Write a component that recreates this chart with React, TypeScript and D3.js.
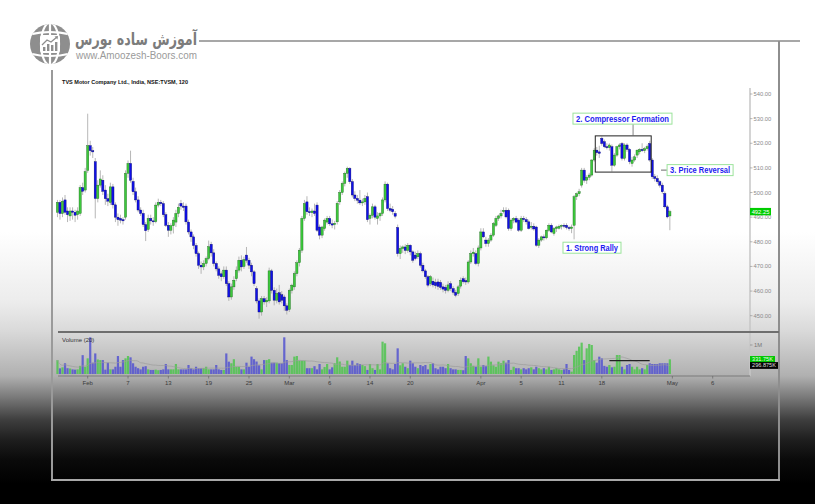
import React, { useEffect, useRef } from 'react';
import * as d3 from 'd3';

const W = 815;
const H = 504;
const FONT = "'Liberation Sans', Arial, sans-serif";

// 120-minute candles: [open, high, low, close]
const ohlc: [number, number, number, number][] = [
  [492, 497, 490, 496], [496, 497, 489, 491.5], [491.5, 498, 490, 496.5], [497, 499, 491, 492], [492.5, 494, 488, 491],
  [490.5, 494, 488.5, 492.5], [492.5, 494, 489, 492], [492, 493, 488, 490.8], [491, 494, 489, 492.5], [491.5, 503, 490.5, 502],
  [502, 504, 499, 500.5], [501, 510, 500, 508.5], [509, 532, 508, 519], [519, 521, 515, 517], [517, 518.5, 514, 516.5],
  [512.5, 514, 489.5, 497.6], [497.6, 505, 496, 503], [503, 509, 502, 505.5], [505, 507, 499, 500.5], [501, 503, 495, 497.5],
  [497.5, 499.5, 494.5, 496.5], [496, 504, 495, 502.3], [502.3, 503.5, 493.5, 495], [495, 496, 488, 490], [490, 491.5, 486.5, 489],
  [489.5, 491, 487.5, 488.8], [489, 490, 487, 488.5], [490, 509, 489, 507.8], [507.8, 513, 506, 511.8], [511.8, 517, 504, 505],
  [504.5, 506, 499, 500.3], [500.3, 502, 496, 497], [497, 498.5, 492, 492.9], [492.9, 494, 490.5, 491.5], [491.5, 493, 486, 487],
  [487, 488, 480.3, 484.5], [485, 491, 484, 489.5], [489.5, 491, 487, 488.5], [488.5, 490, 486.5, 488.2], [488.2, 496, 487.5, 494.9],
  [494.9, 497.5, 494, 496], [496, 497, 494.5, 495.5], [495.5, 496.5, 490, 491], [491, 492, 486, 486.7], [486.7, 488, 482, 484.7],
  [484.7, 487.5, 483, 486.5], [486.5, 490, 483.4, 488.8], [488, 493, 486, 491.5], [491.5, 495.5, 490, 494], [495.6, 497, 493, 494.5],
  [494.5, 496, 492.5, 494], [494.5, 495.5, 487, 488.1], [488, 489, 483, 484], [484, 485, 480, 482], [482, 483, 477, 478.5],
  [478.5, 479.5, 474, 475.2], [475.2, 476, 469, 470.5], [470.5, 472, 467, 469.8], [469.8, 472.5, 468.5, 471.2], [471.2, 474, 470, 473.2],
  [473.2, 480.5, 472.5, 478], [479, 480, 474, 475.5], [475.5, 477, 470, 471.2], [471.2, 472, 468, 469], [469, 470, 465, 466.4],
  [467, 468, 464, 465.8], [465.8, 470, 465, 468.5], [468.5, 470, 462, 463], [463, 464, 456, 457.6], [457.6, 463, 456.5, 461.7],
  [461.7, 466, 460.5, 464.4], [465, 470, 464, 468.5], [468.5, 474, 467.5, 472.5], [472.5, 474.5, 468, 469.8], [470, 474, 469, 472.8],
  [474.6, 477.9, 471.5, 472.5], [472.5, 473.5, 469, 470.5], [470.5, 471.5, 466, 467.8], [467.8, 468.5, 462, 463], [461, 462, 455, 456],
  [456, 457, 448.8, 451.5], [451.5, 458, 450, 456.9], [456.9, 458, 454.5, 455.6], [455.6, 457.5, 453.5, 456.3], [456, 469.5, 455, 468.2],
  [468.2, 469, 459, 460.3], [460.3, 461.5, 454.2, 456.3], [456.3, 461, 455, 459], [459.3, 462.5, 454.5, 455.6], [458.5, 460, 455, 456.3],
  [457.6, 458.5, 452, 454], [454, 455, 450.5, 452.2], [452.5, 461, 451.5, 460.3], [460.3, 463, 459, 462.4], [461.7, 468, 460.5, 467.1],
  [467.1, 472.5, 466, 471.5], [471.5, 477.5, 470, 476.6], [476.6, 490.5, 475.5, 489.5], [489.5, 497, 488.5, 495.5], [496.2, 498.5, 491, 492.2],
  [492.2, 494, 490.5, 491.8], [491.8, 493.5, 490, 492.5], [492.5, 495.5, 490.5, 491.5], [494.9, 496, 484, 484.7], [486, 487, 481, 482.7],
  [482.7, 486.5, 481.5, 486], [485.4, 489.5, 484.5, 488.8], [488, 490.5, 487, 489.5], [489.5, 490.5, 486.5, 487.3], [487.3, 489, 485.5, 486.8],
  [487, 488.5, 485, 487.5], [488.1, 496.5, 487, 495.6], [496.2, 501, 495, 500], [500, 504.5, 499, 503.7], [503.7, 508.5, 502.5, 507.8],
  [507.8, 510.5, 506, 509.8], [509.8, 510.3, 503.5, 504.4], [504.4, 505.5, 498, 499], [499, 500.5, 496.5, 497.6], [497.6, 499, 495.5, 496.9],
  [496.9, 501, 495, 495.8], [495.8, 497.5, 494.5, 496.2], [496.2, 499, 495, 497.6], [498.3, 500, 488, 489], [489.5, 491.5, 487, 490.8],
  [490.8, 495.5, 489.5, 494.2], [494.2, 495, 489, 490], [489.5, 492, 487, 490.5], [490.5, 492, 488.5, 491.5], [491.5, 498, 490.5, 497],
  [497, 504.5, 496, 503.4], [503.4, 504, 492.5, 493.5], [493.5, 495.5, 492, 492.8], [493.2, 494.5, 491, 492.2], [491.5, 492.5, 489.5, 490.4],
  [485.8, 487, 474, 475.2], [475.2, 478.5, 473, 477.3], [477.3, 478.5, 475.5, 477.9], [477.9, 479, 475, 476.5], [476.5, 479.5, 475.5, 478.6],
  [478.6, 479, 474.5, 475.9], [475.9, 476.5, 471.5, 472.5], [474.6, 476, 472.5, 473.2], [473.9, 476.5, 473, 475.2], [475.2, 476, 469.5, 470.5],
  [470.5, 471.5, 467.5, 468.2], [468.2, 469, 465, 465.8], [465.8, 466.5, 461.5, 462.4], [463, 466.5, 462, 465.8], [464, 465.5, 461.5, 462.5],
  [463.5, 465, 461, 462.2], [463.7, 465, 460.5, 461.9], [463.5, 464.5, 460.5, 461.5], [461.7, 463, 459.5, 460.8], [461.5, 462.5, 459, 460.3],
  [460.3, 464, 459.5, 462.5], [463, 464, 460, 461], [461, 462, 458.5, 459.5], [459.5, 460.5, 457.5, 458.3], [459, 462.5, 458, 461.7],
  [462, 465.5, 461, 464.4], [465, 466, 463, 463.8], [464.2, 465.5, 462.5, 463.7], [463.7, 472.5, 463, 471.8], [471.8, 476.5, 471, 475.2],
  [475.2, 477.5, 474, 475.8], [475.2, 476.5, 470.5, 471.2], [471.2, 478.5, 470, 477.5], [477.5, 485.5, 476.5, 484], [484, 485.5, 481.5, 482],
  [480.7, 482, 478, 479.3], [479.3, 481.5, 478, 480.7], [480.7, 483.5, 480, 482.7], [482.7, 488, 482, 487.4], [486.7, 490.5, 486, 489.5],
  [489.5, 491, 488.5, 490.5], [490.5, 493, 489.5, 491.5], [492.2, 494, 491.5, 492.8], [492.8, 494, 489.5, 490.1], [492.8, 493.5, 484.5, 485.4],
  [485.4, 489.5, 484.5, 488.8], [488.8, 490, 487.5, 489.5], [489.5, 490.5, 487.5, 488], [488.8, 489.5, 484, 484.7], [484.7, 490.5, 484, 489.5],
  [489.5, 490.5, 488, 489], [489, 490, 487, 488.1], [488.1, 489, 485, 485.4], [486, 488, 485, 486.3], [486.3, 487.5, 484.5, 485.2],
  [486, 486.5, 478, 478.6], [478.6, 481.5, 477.5, 480.7], [480.7, 482.5, 480, 482], [482, 483, 480.5, 481.6], [481.6, 485, 481, 484.7],
  [484.7, 487.5, 484, 486.7], [486.7, 487.5, 483.5, 484], [483.4, 486, 482.5, 485.4], [485.4, 486.5, 484, 486], [485.5, 487, 485, 486.3],
  [486.3, 487, 485, 486.7], [486.7, 487.5, 485.5, 486.5], [486.7, 487.5, 485, 485.8], [485.8, 486.5, 484.5, 485.4], [485.4, 487, 483.5, 486],
  [486.7, 499, 481, 498.3], [498.3, 500, 497, 499.5], [499.5, 501.5, 498.5, 500.3], [503, 510, 502, 509.1], [509.1, 510, 504, 505],
  [505, 507, 503.5, 506.2], [506.2, 508, 505, 507.1], [507.1, 513.5, 506.5, 513.2], [513.2, 518, 512.5, 517.2], [517.2, 518.5, 515, 516.2],
  [516.5, 519, 514, 515.9], [522, 522.7, 519, 519.9], [520.6, 521.5, 518, 518.6], [518.6, 520, 517.5, 518.2], [518.2, 520, 517, 519.3],
  [518.6, 519.5, 508.5, 511.1], [511.1, 516, 510.5, 515.2], [515.2, 519, 514.5, 518.6], [518.6, 520, 517.5, 519.3], [519.9, 520.5, 513, 513.9],
  [513.9, 520, 513, 519.3], [519.3, 520, 516.5, 517.5], [517.5, 518, 511.5, 512.5], [511.8, 514.5, 510.5, 513.2], [513.2, 515.5, 512.5, 514.5],
  [515.2, 517.5, 514, 517.2], [516.5, 518, 515.5, 517.5], [517.5, 520, 516.5, 517], [517, 518.5, 516, 517.8], [517.8, 519.5, 517, 518.6],
  [519.9, 521, 512.5, 513.2], [513.2, 514, 505.5, 506.4], [506.4, 507.5, 504.5, 505.7], [505.7, 507, 503.5, 504.4], [504.4, 505, 502, 503],
  [503, 504, 499.5, 500.3], [499.6, 500.5, 493.5, 494.2], [494.2, 495, 489.5, 490.1], [490.5, 493, 484.7, 492.25],
];

// volume per candle, thousands
const volumes: number[] = [
  480, 195, 230, 370, 200, 190, 160, 150, 160, 280,
  650, 250, 540, 1265, 390, 710, 500, 480, 480, 150,
  390, 160, 160, 250, 620, 250, 480, 540, 620, 575,
  370, 250, 200, 160, 250, 270, 160, 140, 140, 150,
  130, 140, 160, 345, 160, 160, 160, 345, 160, 160,
  160, 160, 310, 200, 160, 250, 200, 200, 200, 250,
  160, 160, 160, 310, 160, 140, 140, 710, 425, 370,
  510, 250, 250, 160, 160, 390, 250, 600, 510, 430,
  300, 160, 480, 480, 510, 390, 390, 390, 370, 370,
  1265, 480, 310, 310, 600, 620, 460, 460, 460, 200,
  200, 200, 270, 160, 345, 160, 240, 345, 160, 230,
  370, 575, 430, 250, 250, 460, 310, 460, 310, 370,
  345, 310, 270, 140, 345, 200, 140, 345, 160, 1115,
  1058, 370, 200, 160, 345, 885, 300, 370, 250, 200,
  460, 370, 250, 200, 310, 270, 310, 160, 345, 370,
  200, 160, 250, 250, 200, 345, 200, 160, 160, 140,
  140, 130, 620, 540, 370, 280, 250, 540, 250, 310,
  270, 600, 425, 300, 250, 425, 370, 460, 390, 480,
  140, 250, 200, 200, 160, 200, 160, 200, 230, 160,
  250, 200, 160, 200, 160, 250, 140, 160, 200, 160,
  140, 160, 345, 140, 80, 655, 800, 943, 1081, 480,
  885, 1035, 1000, 480, 390, 598, 540, 280, 250, 310,
  230, 250, 655, 655, 250, 160, 310, 345, 250, 160,
  250, 160, 200, 160, 310, 370, 345, 345, 345, 370,
  370, 370, 370, 506,
];

const tickIndex = [12, 28, 44, 60, 76, 92, 108, 124, 140, 168, 184, 200, 216, 244, 260];
const tickLabels = ['Feb', '7', '13', '19', '25', 'Mar', '6', '14', '20', 'Apr', '5', '11', '18', 'May', '6'];
const priceTicks = [450, 460, 470, 480, 490, 500, 510, 520, 530, 540];
const lastPrice = 492.25;
const lastVolText = '331.75K';
const maVolume = 296.875;

// annotations (anchored in bar index / price)
const noteText = ['2. Compressor Formation', '3. Price Reversal', '1. Strong Rally'];
const noteIdx = [224.2, 252.2, 212.1];
const notePrice = [530, 509.1, 477.6];
const noteWidth = [99, 66, 58];
const boxIdx = [214, 235];
const boxPrice = [508.3, 523];
const volLineIdx = [219, 235];
const volLineValue = 460;

export default function App() {
  const svgRef = useRef<SVGSVGElement>(null);

  useEffect(() => {
    if (!svgRef.current) return;
    const svg = d3.select(svgRef.current);
    svg.selectAll('*').remove();

    const x = d3.scaleLinear().domain([-0.5, 274.8]).range([56.2, 750]);
    const y = d3.scaleLinear().domain([450, 540]).range([315.7, 94]);
    const yv = d3.scaleLinear().domain([0, 1000]).range([374, 345]);

    // background
    const defs = svg.append('defs');
    const grad = defs.append('linearGradient').attr('id', 'bg').attr('x1', 0).attr('y1', 0).attr('x2', 0).attr('y2', 1);
    [
      [0, '#ffffff'], [0.46, '#ffffff'], [0.6, '#ececec'], [0.655, '#dadada'], [0.746, '#b0b0b0'],
      [0.79, '#777777'], [0.833, '#3e3e3e'], [0.873, '#1e1e1e'], [0.913, '#0a0a0a'], [0.96, '#000000'], [1, '#000000'],
    ].forEach(([o, c]) => grad.append('stop').attr('offset', o as number).attr('stop-color', c as string));
    svg.append('rect').attr('width', W).attr('height', H).attr('fill', 'url(#bg)');

    // logo
    const logo = svg.append('g');
    defs.append('clipPath').attr('id', 'globe').append('circle').attr('cx', 50).attr('cy', 44).attr('r', 20);
    logo.append('circle').attr('cx', 50).attr('cy', 44).attr('r', 20).attr('fill', '#8e8e8e');
    const gl = logo.append('g').attr('clip-path', 'url(#globe)').attr('fill', 'none').attr('stroke', '#fff').attr('stroke-width', 2.2);
    gl.append('ellipse').attr('cx', 50).attr('cy', 44).attr('rx', 9).attr('ry', 21);
    gl.append('line').attr('x1', 50).attr('x2', 50).attr('y1', 22).attr('y2', 66);
    gl.append('path').attr('d', 'M28,35 Q50,29 72,35');
    gl.append('path').attr('d', 'M28,53 Q50,59 72,53');
    logo.append('rect').attr('x', 40).attr('y', 35).attr('width', 20).attr('height', 18).attr('rx', 3).attr('fill', '#fff');
    [[43, 47, 4], [47, 44, 7], [51, 45, 6], [55, 42, 9]].forEach(([bx, by, bh]) =>
      logo.append('rect').attr('x', bx).attr('y', by).attr('width', 2.4).attr('height', bh).attr('fill', '#8e8e8e'));
    logo.append('path').attr('d', 'M42,45 L47,40 L51,42 L57,37').attr('fill', 'none').attr('stroke', '#8e8e8e').attr('stroke-width', 1.3);
    logo.append('path').attr('d', 'M54.5,36.5 L58,36 L57.5,39.5 Z').attr('fill', '#8e8e8e');
    logo.append('text').attr('x', 75).attr('y', 45).attr('font-family', "'DejaVu Sans', sans-serif").attr('font-weight', 'bold')
      .attr('font-size', 17).attr('fill', '#7c7c7c').attr('textLength', 122).attr('lengthAdjust', 'spacingAndGlyphs')
      .text('آموزش ساده بورس');
    logo.append('text').attr('x', 76).attr('y', 58.5).attr('font-family', FONT).attr('font-size', 10).attr('fill', '#9a9a9a')
      .attr('textLength', 121).attr('lengthAdjust', 'spacingAndGlyphs').text('www.Amoozesh-Boors.com');

    // frame
    const frame = svg.append('g').attr('fill', 'none');
    frame.append('line').attr('x1', 199).attr('x2', 800).attr('y1', 41).attr('y2', 41).attr('stroke', '#8a8a8a').attr('stroke-width', 1.5);
    frame.append('line').attr('x1', 52).attr('x2', 52).attr('y1', 70).attr('y2', 481).attr('stroke', '#9a9a9a').attr('stroke-width', 2);
    frame.append('line').attr('x1', 779).attr('x2', 779).attr('y1', 41).attr('y2', 481).attr('stroke', '#8e8e8e').attr('stroke-width', 2);
    frame.append('line').attr('x1', 51).attr('x2', 780).attr('y1', 480).attr('y2', 480).attr('stroke', '#a8a8a8').attr('stroke-width', 2);

    // title
    svg.append('text').attr('x', 62).attr('y', 84).attr('font-family', FONT).attr('font-weight', 'bold').attr('font-size', 6)
      .attr('fill', '#111').attr('textLength', 126).attr('lengthAdjust', 'spacingAndGlyphs')
      .text('TVS Motor Company Ltd., India, NSE:TVSM, 120');

    // price axis
    svg.append('line').attr('x1', 750).attr('x2', 750).attr('y1', 88).attr('y2', 376).attr('stroke', '#c6c6c6').attr('stroke-width', 1.5);
    const pa = svg.append('g');
    priceTicks.forEach(p => {
      pa.append('line').attr('x1', 750).attr('x2', 752.5).attr('y1', y(p)).attr('y2', y(p)).attr('stroke', '#999').attr('stroke-width', 0.7);
      pa.append('text').attr('x', 753.5).attr('y', y(p) + 2).attr('font-family', FONT).attr('font-size', 5.8).attr('fill', '#8a8a8a')
        .text(p.toFixed(2));
    });

    // candles
    const cw = 2.2;
    const cg = svg.append('g');
    ohlc.forEach(([o, h, l, c], i) => {
      cg.append('line').attr('x1', x(i)).attr('x2', x(i)).attr('y1', y(h)).attr('y2', y(l)).attr('stroke', '#a4a4a4').attr('stroke-width', 0.8);
    });
    ohlc.forEach(([o, h, l, c], i) => {
      const up = c >= o;
      const top = y(Math.max(o, c));
      const hgt = Math.max(1, Math.abs(y(o) - y(c)));
      cg.append('rect').attr('x', x(i) - cw / 2).attr('y', top).attr('width', cw).attr('height', hgt)
        .attr('fill', up ? '#3cc83c' : '#1010e8').attr('stroke', up ? '#1d6b1d' : '#08086e').attr('stroke-width', 0.4);
    });

    // last price label
    svg.append('rect').attr('x', 750).attr('y', y(lastPrice) - 3.7).attr('width', 21).attr('height', 7.4).attr('fill', '#00cc00');
    svg.append('text').attr('x', 760.5).attr('y', y(lastPrice) + 2).attr('text-anchor', 'middle').attr('font-family', FONT)
      .attr('font-size', 5.8).attr('fill', '#fff').text(lastPrice.toFixed(2));

    // annotations
    const ann = svg.append('g');
    ann.append('rect').attr('x', x(boxIdx[0]) - 1.5).attr('y', y(boxPrice[1])).attr('width', x(boxIdx[1]) - x(boxIdx[0]) + 3)
      .attr('height', y(boxPrice[0]) - y(boxPrice[1])).attr('fill', 'none').attr('stroke', '#222').attr('stroke-width', 1);
    ann.append('line').attr('x1', x(228.4)).attr('x2', x(228.4)).attr('y1', y(notePrice[0]) + 5.5).attr('y2', y(boxPrice[1]))
      .attr('stroke', '#666').attr('stroke-width', 0.8);
    ann.append('line').attr('x1', x(239.5)).attr('x2', x(241.8)).attr('y1', y(notePrice[1])).attr('y2', y(notePrice[1]))
      .attr('stroke', '#444').attr('stroke-width', 0.8);
    noteText.forEach((t, k) => {
      const w = noteWidth[k];
      const cx = k === 1 ? x(noteIdx[k]) : x(noteIdx[k]);
      const left = k === 1 ? x(241.9) : cx - w / 2;
      const cy = y(notePrice[k]);
      ann.append('rect').attr('x', left).attr('y', cy - 5.5).attr('width', w).attr('height', 11)
        .attr('fill', '#fff').attr('stroke', '#9be39b').attr('stroke-width', 1);
      ann.append('text').attr('x', left + w / 2).attr('y', cy + 3).attr('text-anchor', 'middle').attr('font-family', FONT)
        .attr('font-weight', 'bold').attr('font-size', 8.2).attr('fill', '#1c1cf0')
        .attr('textLength', w - 6).attr('lengthAdjust', 'spacingAndGlyphs').text(t);
    });

    // pane divider
    svg.append('line').attr('x1', 58).attr('x2', 779).attr('y1', 332).attr('y2', 332).attr('stroke', '#6e6e6e').attr('stroke-width', 1.8);

    // volume
    const vg = svg.append('g');
    volumes.forEach((v, i) => {
      const [o, , , c] = ohlc[i];
      vg.append('rect').attr('x', x(i) - 1.1).attr('y', yv(v)).attr('width', 2.2).attr('height', yv(0) - yv(v))
        .attr('fill', c >= o ? '#4fc44f' : '#5353d0').attr('opacity', 0.85);
    });
    const ma = volumes.map((_, i) => d3.mean(volumes.slice(Math.max(0, i - 19), i + 1)) as number);
    vg.append('path').attr('d', d3.line<number>().x((_, i) => x(i)).y(v => yv(v)).curve(d3.curveMonotoneX)(ma) || '')
      .attr('fill', 'none').attr('stroke', '#9c9c9c').attr('stroke-width', 0.7);
    vg.append('line').attr('x1', x(volLineIdx[0])).attr('x2', x(volLineIdx[1])).attr('y1', yv(volLineValue)).attr('y2', yv(volLineValue))
      .attr('stroke', '#222').attr('stroke-width', 1.4);
    svg.append('text').attr('x', 62).attr('y', 342).attr('font-family', FONT).attr('font-size', 6).attr('fill', '#333').text('Volume (20)');
    svg.append('line').attr('x1', 750).attr('x2', 752.5).attr('y1', yv(1000)).attr('y2', yv(1000)).attr('stroke', '#888').attr('stroke-width', 0.7);
    svg.append('text').attr('x', 754).attr('y', yv(1000) + 2).attr('font-family', FONT).attr('font-size', 5.8).attr('fill', '#777').text('1M');
    const lv = volumes[volumes.length - 1];
    svg.append('rect').attr('x', 750).attr('y', yv(lv) - 3.3).attr('width', 25).attr('height', 6.8).attr('fill', '#00c800');
    svg.append('text').attr('x', 762.5).attr('y', yv(lv) + 2).attr('text-anchor', 'middle').attr('font-family', FONT)
      .attr('font-size', 5.6).attr('fill', '#eaffea').text(lastVolText);
    svg.append('rect').attr('x', 750).attr('y', yv(maVolume) - 3.3).attr('width', 28).attr('height', 6.8).attr('fill', '#050505');
    svg.append('text').attr('x', 764).attr('y', yv(maVolume) + 2).attr('text-anchor', 'middle').attr('font-family', FONT)
      .attr('font-size', 5.6).attr('fill', '#ddd').text(`${maVolume}K`);

    // time axis
    svg.append('line').attr('x1', 58).attr('x2', 750).attr('y1', 376).attr('y2', 376).attr('stroke', '#7a7a7a').attr('stroke-width', 1);
    const ta = svg.append('g');
    tickIndex.forEach((ti, k) => {
      ta.append('line').attr('x1', x(ti)).attr('x2', x(ti)).attr('y1', 376).attr('y2', 378.5).attr('stroke', '#666').attr('stroke-width', 0.7);
      ta.append('text').attr('x', x(ti)).attr('y', 385).attr('text-anchor', 'middle').attr('font-family', FONT)
        .attr('font-size', 6).attr('fill', '#3a3a3a').text(tickLabels[k]);
    });
  }, []);

  return (
    <svg ref={svgRef} width={W} height={H} style={{ position: 'absolute', left: 0, top: 0, display: 'block' }} />
  );
}
